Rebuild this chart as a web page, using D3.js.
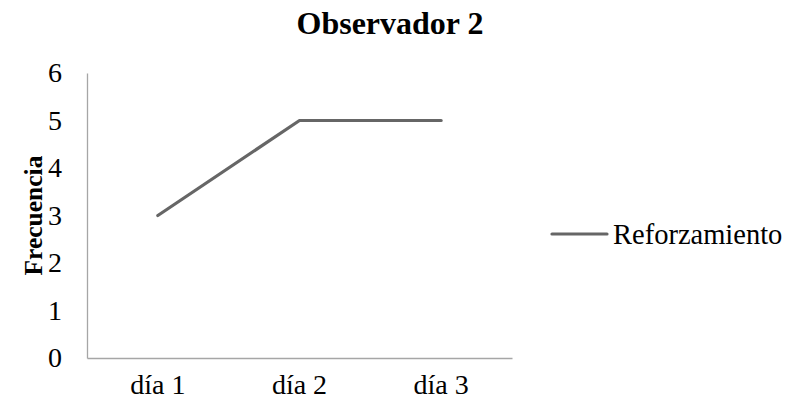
<!DOCTYPE html>
<html>
<head>
<meta charset="utf-8">
<script src="https://cdn.jsdelivr.net/npm/d3@7"></script>
<style>
  html, body { margin: 0; padding: 0; background: #fff; }
  svg { display: block; font-family: "Liberation Serif", "Times New Roman", serif; }
</style>
</head>
<body>
<svg id="chart" width="788" height="407"></svg>
<script>
const chartTitle = "Observador 2";
const yAxisTitle = "Frecuencia";
const categories = ["día 1", "día 2", "día 3"];
const seriesName = "Reforzamiento";
const seriesValues = [3, 5, 5];
const yTicks = [0, 1, 2, 3, 4, 5, 6];

const svg = d3.select("#chart");
const plot = { left: 87, right: 512, top: 73, bottom: 358 };
const lineColor = "#666666";
const axisColor = "#a6a6a6";
const serif = "Liberation Serif, Times New Roman, serif";

const x = d3.scaleBand().domain(categories).range([plot.left, plot.right]);
const y = d3.scaleLinear().domain([0, 6]).range([plot.bottom, plot.top]);

// Title
svg.append("text")
  .attr("x", 390).attr("y", 34)
  .attr("text-anchor", "middle")
  .attr("font-size", 32).attr("font-weight", "bold")
  .text(chartTitle);

// Y axis title
svg.append("text")
  .attr("transform", `translate(42,${(plot.top + plot.bottom) / 2}) rotate(-90)`)
  .attr("text-anchor", "middle")
  .attr("font-size", 25.5).attr("font-weight", "bold")
  .text(yAxisTitle);

// Y axis
const yAxis = svg.append("g")
  .attr("transform", `translate(${plot.left},0)`)
  .call(d3.axisLeft(y).tickValues(yTicks).tickFormat(d3.format("d")).tickSize(0).tickPadding(25));
yAxis.select(".domain").attr("stroke", axisColor).attr("stroke-width", 1.3);
yAxis.selectAll("text").attr("font-size", 28).attr("fill", "#000")
  .attr("font-family", serif);

// X axis
const xAxis = svg.append("g")
  .attr("transform", `translate(0,${plot.bottom})`)
  .call(d3.axisBottom(x).tickSize(0).tickPadding(16));
xAxis.select(".domain").attr("stroke", axisColor).attr("stroke-width", 1.3);
xAxis.selectAll("text").attr("font-size", 28).attr("fill", "#000")
  .attr("font-family", serif);

// Series line
const line = d3.line()
  .x((d, i) => x(categories[i]) + x.bandwidth() / 2)
  .y(d => y(d));
svg.append("path")
  .datum(seriesValues)
  .attr("fill", "none")
  .attr("stroke", lineColor)
  .attr("stroke-width", 3.2)
  .attr("stroke-linecap", "round")
  .attr("stroke-linejoin", "round")
  .attr("d", line);

// Legend
const legend = svg.append("g").attr("transform", "translate(552,234)");
legend.append("line")
  .attr("x1", 0).attr("x2", 55).attr("y1", 0).attr("y2", 0)
  .attr("stroke", lineColor).attr("stroke-width", 3.2).attr("stroke-linecap", "round");
legend.append("text")
  .attr("x", 61).attr("y", 0).attr("dy", "0.35em")
  .attr("font-size", 28.5)
  .text(seriesName);
</script>
</body>
</html>
